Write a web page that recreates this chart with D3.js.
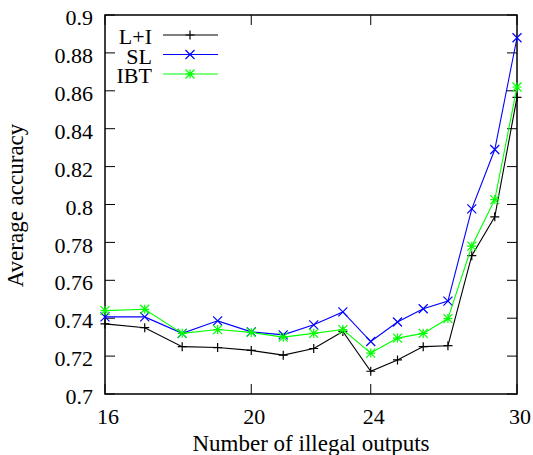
<!DOCTYPE html>
<html>
<head>
<meta charset="utf-8">
<script src="https://cdn.jsdelivr.net/npm/d3@7"></script>
<style>
  body { margin: 0; background: #fff; }
</style>
</head>
<body>
<svg id="chart"></svg>
<script>
const outputs = [16, 17, 18, 19, 20, 21, 22, 23, 24, 25, 26, 27, 28, 29, 30];
const lpi = [0.737, 0.735, 0.725, 0.7245, 0.723, 0.7205, 0.724, 0.733, 0.712, 0.718, 0.725, 0.7255, 0.773, 0.7935, 0.8565];
const sl  = [0.7407, 0.7407, 0.732, 0.7386, 0.7328, 0.7312, 0.7365, 0.7433, 0.7277, 0.738, 0.745, 0.749, 0.7977, 0.829, 0.888];
const ibt = [0.744, 0.7447, 0.732, 0.734, 0.7325, 0.730, 0.732, 0.734, 0.7216, 0.7295, 0.732, 0.7398, 0.778, 0.8026, 0.862];
const seriesNames = ['L+I', 'SL', 'IBT'];
const xTicks = [16, 20, 24, 30];
const yTicks = [0.7, 0.72, 0.74, 0.76, 0.78, 0.8, 0.82, 0.84, 0.86, 0.88, 0.9];

const width = 533, height = 455;
const margin = {top: 15, right: 16, bottom: 61, left: 105};
const innerW = width - margin.left - margin.right;
const innerH = height - margin.top - margin.bottom;

const svg = d3.select('#chart').attr('width', width).attr('height', height)
  .attr('font-family', "'Liberation Serif', 'Times New Roman', serif");
const g = svg.append('g').attr('transform', `translate(${margin.left},${margin.top})`);

const x = d3.scaleLog().domain([16, 30]).range([0, innerW]);
const y = d3.scaleLinear().domain([0.7, 0.9]).range([innerH, 0]);

const tickLen = 10;
const fontSize = 22;
const titleSize = 23;

// y ticks, inward on both sides
yTicks.forEach(t => {
  g.append('line').attr('x1', 0).attr('x2', tickLen).attr('y1', y(t)).attr('y2', y(t))
    .attr('stroke', '#000').attr('stroke-width', 1);
  g.append('line').attr('x1', innerW).attr('x2', innerW - tickLen).attr('y1', y(t)).attr('y2', y(t))
    .attr('stroke', '#000').attr('stroke-width', 1);
  g.append('text').attr('x', -12).attr('y', y(t)).attr('dy', '0.46em')
    .attr('text-anchor', 'end').attr('font-size', fontSize).text(+t.toFixed(2));
});

// x ticks, inward top and bottom
xTicks.forEach(t => {
  g.append('line').attr('x1', x(t)).attr('x2', x(t)).attr('y1', innerH).attr('y2', innerH - tickLen)
    .attr('stroke', '#000').attr('stroke-width', 1);
  g.append('line').attr('x1', x(t)).attr('x2', x(t)).attr('y1', 0).attr('y2', tickLen)
    .attr('stroke', '#000').attr('stroke-width', 1);
  g.append('text').attr('x', x(t) + 3).attr('y', innerH + 30)
    .attr('text-anchor', 'middle').attr('font-size', fontSize).text(t);
});

g.append('rect').attr('width', innerW).attr('height', innerH)
  .attr('fill', 'none').attr('stroke', '#000').attr('stroke-width', 1.5);

// axis titles
g.append('text').attr('x', innerW / 2).attr('y', innerH + 57)
  .attr('text-anchor', 'middle').attr('font-size', titleSize).text('Number of illegal outputs');
svg.append('text').attr('transform', `translate(23,${margin.top + innerH / 2 + 1}) rotate(-90)`)
  .attr('text-anchor', 'middle').attr('font-size', titleSize).text('Average accuracy');

const colors = ['#000000', '#0000ff', '#00ff00'];
const allSeries = [lpi, sl, ibt];
const ms = 4.5;

function marker(sel, i, cx, cy) {
  const p = d3.path();
  if (i === 0 || i === 2) {
    p.moveTo(cx - ms, cy); p.lineTo(cx + ms, cy);
    p.moveTo(cx, cy - ms); p.lineTo(cx, cy + ms);
  }
  if (i === 1 || i === 2) {
    p.moveTo(cx - ms, cy - ms); p.lineTo(cx + ms, cy + ms);
    p.moveTo(cx - ms, cy + ms); p.lineTo(cx + ms, cy - ms);
  }
  sel.append('path').attr('d', p.toString()).attr('stroke', colors[i]).attr('stroke-width', 1.2).attr('fill', 'none');
}

const line = d3.line().x(d => x(d[0])).y(d => y(d[1]));

allSeries.forEach((vals, i) => {
  const pts = outputs.map((o, k) => [o, vals[k]]);
  g.append('path').datum(pts).attr('d', line)
    .attr('fill', 'none').attr('stroke', colors[i]).attr('stroke-width', 1.1);
  pts.forEach(p => marker(g, i, x(p[0]), y(p[1])));
});

// legend
seriesNames.forEach((name, i) => {
  const ly = 35 + i * 19.5;
  svg.append('text').attr('x', 152).attr('y', ly).attr('dy', '0.42em')
    .attr('text-anchor', 'end').attr('font-size', fontSize).text(name);
  svg.append('line').attr('x1', 163).attr('x2', 218).attr('y1', ly).attr('y2', ly)
    .attr('stroke', colors[i]).attr('stroke-width', 1.1);
  marker(svg, i, 190, ly);
});
</script>
</body>
</html>
